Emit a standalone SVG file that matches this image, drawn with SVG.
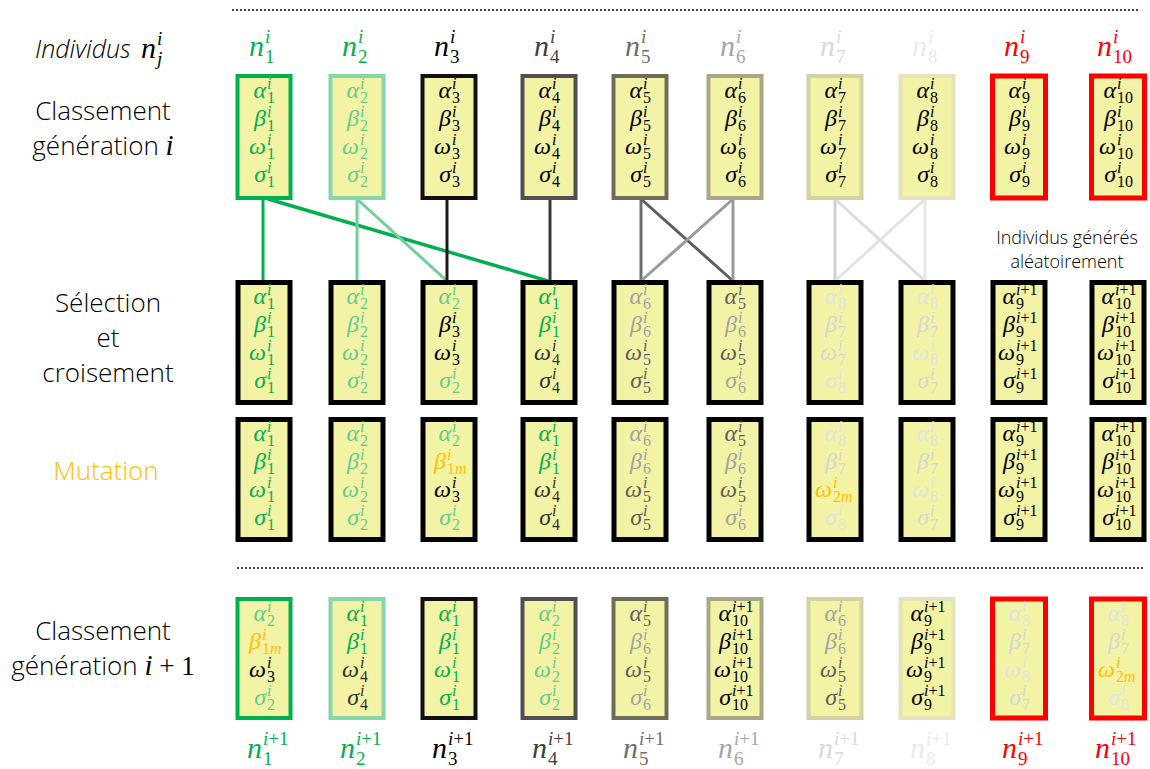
<svg xmlns="http://www.w3.org/2000/svg" width="1150" height="769" viewBox="0 0 1150 769">
<style>
.m{font-family:'Liberation Serif','DejaVu Serif',serif;font-style:italic;font-size:24px;text-anchor:end}
.p{font-family:'Liberation Serif','DejaVu Serif',serif;font-style:italic;font-size:16px}
.b{font-family:'Liberation Serif','DejaVu Serif',serif;font-style:normal;font-size:16px}
.nm{font-family:'Liberation Serif','DejaVu Serif',serif;font-style:italic;font-size:30px;text-anchor:end}
.np{font-family:'Liberation Serif','DejaVu Serif',serif;font-style:italic;font-size:19px}
.nb{font-family:'Liberation Serif','DejaVu Serif',serif;font-style:normal;font-size:19px}
.u{font-style:normal}
.it{font-style:italic}
.lab{font-family:'Open Sans','Liberation Sans',sans-serif;font-weight:300;font-size:26px;text-anchor:middle;fill:#000}
.sm{font-family:'Open Sans','Liberation Sans',sans-serif;font-weight:300;font-size:18px;text-anchor:middle;fill:#000}
.mi{font-family:'Liberation Serif','DejaVu Serif',serif;font-style:italic;font-size:29px;font-weight:normal}
.mu{font-family:'Liberation Serif','DejaVu Serif',serif;font-style:normal;font-size:27px;font-weight:normal}
.bx{fill:#F3F3A6;stroke-width:4}
.bk{fill:#F3F3A6;stroke:#000;stroke-width:5}
.r1{stroke:#00B050}.r2{stroke:#86D6A6}.r3{stroke:#111}.r4{stroke:#505050}.r5{stroke:#6E6E58}.r6{stroke:#A8A888}.r7{stroke:#D2D2A2}.r8{stroke:#E4E4BC}.r9{stroke:#FF0000;stroke-width:5}
.cG{fill:#00B050}.cL{fill:#63CB90}.cK{fill:#000}.cD{fill:#333}.c5{fill:#5E5E5E}.c6{fill:#A3A3A3}.c7{fill:#D6D6D6}.c8{fill:#E2E2E2}.cO{fill:#FFC000}.cR{fill:#FF0000}
.n4{fill:#404040}.n5{fill:#6E6E6E}.n6{fill:#A6A6A6}.n7{fill:#D9D9D9}.n8{fill:#EBEBEB}
.dot{stroke:#444;stroke-width:2;stroke-dasharray:2 2;fill:none}
</style>

<g id="separators">
<line class="dot" x1="232" y1="10" x2="1140" y2="10"/>
<line class="dot" x1="237" y1="568" x2="1145" y2="568"/>
</g>

<g id="left-labels">
<text x="35" y="58" style="font-family:'Open Sans','Liberation Sans',sans-serif;font-weight:300;font-style:italic;font-size:25px">Individus</text>
<g transform="translate(156,58)"><text class="nm">n</text><text class="np" x="1" y="-13">i</text><text class="np" x="1" y="7">j</text></g>
<text class="lab" x="103" y="120">Classement</text>
<text class="lab" x="103" y="155">génération <tspan class="mi">i</tspan></text>
<text class="lab" x="108" y="312">Sélection</text>
<text class="lab" x="108" y="347">et</text>
<text class="lab" x="108" y="382">croisement</text>
<text class="lab" x="106" y="480" style="fill:#FFC000">Mutation</text>
<text class="lab" x="103" y="640">Classement</text>
<text class="lab" x="103" y="675">génération <tspan class="mi">i</tspan><tspan class="mu"> + 1</tspan></text>
<text class="sm" x="1067" y="244">Individus générés</text>
<text class="sm" x="1067" y="268">aléatoirement</text>
</g>

<g id="connectors" fill="none" stroke-width="3">
<line x1="263" y1="199" x2="263" y2="281" stroke="#00B050"/>
<line x1="268" y1="199" x2="548" y2="281" stroke="#00B050" stroke-width="3.5"/>
<line x1="357" y1="199" x2="357" y2="281" stroke="#6FD09A"/>
<line x1="357" y1="199" x2="447" y2="281" stroke="#6FD09A"/>
<line x1="447" y1="199" x2="447" y2="281" stroke="#1A1A1A"/>
<line x1="550" y1="199" x2="550" y2="281" stroke="#3A3A3A"/>
<line x1="641" y1="199" x2="641" y2="281" stroke="#6E6E6E"/>
<line x1="641" y1="199" x2="733" y2="281" stroke="#5E5E5E"/>
<line x1="733" y1="199" x2="733" y2="281" stroke="#9A9A9A"/>
<line x1="733" y1="199" x2="641" y2="281" stroke="#9A9A9A"/>
<line x1="835" y1="199" x2="835" y2="281" stroke="#D0D0D0"/>
<line x1="835" y1="199" x2="925" y2="281" stroke="#DCDCDC"/>
<line x1="925" y1="199" x2="925" y2="281" stroke="#E6E6E6"/>
<line x1="925" y1="199" x2="835" y2="281" stroke="#E3E3E3"/>
</g>

<!-- Generation i -->
<g id="gi-1" class="cG">
<g transform="translate(264,56)"><text class="nm">n</text><text class="np" x="1" y="-13">i</text><text class="nb" x="1" y="7">1</text></g>
<rect class="bx r1" x="237.5" y="76" width="53" height="122"/>
<g transform="translate(266,98)"><text class="m">α</text><text class="p" x="1" y="-9">i</text><text class="b" x="1" y="5">1</text></g>
<g transform="translate(266,126)"><text class="m">β</text><text class="p" x="1" y="-9">i</text><text class="b" x="1" y="5">1</text></g>
<g transform="translate(266,154)"><text class="m">ω</text><text class="p" x="1" y="-9">i</text><text class="b" x="1" y="5">1</text></g>
<g transform="translate(266,182)"><text class="m">σ</text><text class="p" x="1" y="-9">i</text><text class="b" x="1" y="5">1</text></g>
</g>
<g id="gi-2" class="cL">
<g class="cG" transform="translate(357,56)"><text class="nm">n</text><text class="np" x="1" y="-13">i</text><text class="nb" x="1" y="7">2</text></g>
<rect class="bx r2" x="330.5" y="76" width="53" height="122"/>
<g transform="translate(359,98)"><text class="m">α</text><text class="p" x="1" y="-9">i</text><text class="b" x="1" y="5">2</text></g>
<g transform="translate(359,126)"><text class="m">β</text><text class="p" x="1" y="-9">i</text><text class="b" x="1" y="5">2</text></g>
<g transform="translate(359,154)"><text class="m">ω</text><text class="p" x="1" y="-9">i</text><text class="b" x="1" y="5">2</text></g>
<g transform="translate(359,182)"><text class="m">σ</text><text class="p" x="1" y="-9">i</text><text class="b" x="1" y="5">2</text></g>
</g>
<g id="gi-3" class="cK">
<g transform="translate(449,56)"><text class="nm">n</text><text class="np" x="1" y="-13">i</text><text class="nb" x="1" y="7">3</text></g>
<rect class="bx r3" x="422.5" y="76" width="53" height="122"/>
<g transform="translate(451,98)"><text class="m">α</text><text class="p" x="1" y="-9">i</text><text class="b" x="1" y="5">3</text></g>
<g transform="translate(451,126)"><text class="m">β</text><text class="p" x="1" y="-9">i</text><text class="b" x="1" y="5">3</text></g>
<g transform="translate(451,154)"><text class="m">ω</text><text class="p" x="1" y="-9">i</text><text class="b" x="1" y="5">3</text></g>
<g transform="translate(451,182)"><text class="m">σ</text><text class="p" x="1" y="-9">i</text><text class="b" x="1" y="5">3</text></g>
</g>
<g id="gi-4" class="cK">
<g class="n4" transform="translate(549,56)"><text class="nm">n</text><text class="np" x="1" y="-13">i</text><text class="nb" x="1" y="7">4</text></g>
<rect class="bx r4" x="522.5" y="76" width="53" height="122"/>
<g transform="translate(551,98)"><text class="m">α</text><text class="p" x="1" y="-9">i</text><text class="b" x="1" y="5">4</text></g>
<g transform="translate(551,126)"><text class="m">β</text><text class="p" x="1" y="-9">i</text><text class="b" x="1" y="5">4</text></g>
<g transform="translate(551,154)"><text class="m">ω</text><text class="p" x="1" y="-9">i</text><text class="b" x="1" y="5">4</text></g>
<g transform="translate(551,182)"><text class="m">σ</text><text class="p" x="1" y="-9">i</text><text class="b" x="1" y="5">4</text></g>
</g>
<g id="gi-5" class="cK">
<g class="n5" transform="translate(640,56)"><text class="nm">n</text><text class="np" x="1" y="-13">i</text><text class="nb" x="1" y="7">5</text></g>
<rect class="bx r5" x="613.5" y="76" width="53" height="122"/>
<g transform="translate(642,98)"><text class="m">α</text><text class="p" x="1" y="-9">i</text><text class="b" x="1" y="5">5</text></g>
<g transform="translate(642,126)"><text class="m">β</text><text class="p" x="1" y="-9">i</text><text class="b" x="1" y="5">5</text></g>
<g transform="translate(642,154)"><text class="m">ω</text><text class="p" x="1" y="-9">i</text><text class="b" x="1" y="5">5</text></g>
<g transform="translate(642,182)"><text class="m">σ</text><text class="p" x="1" y="-9">i</text><text class="b" x="1" y="5">5</text></g>
</g>
<g id="gi-6" class="cK">
<g class="n6" transform="translate(735,56)"><text class="nm">n</text><text class="np" x="1" y="-13">i</text><text class="nb" x="1" y="7">6</text></g>
<rect class="bx r6" x="708.5" y="76" width="53" height="122"/>
<g transform="translate(737,98)"><text class="m">α</text><text class="p" x="1" y="-9">i</text><text class="b" x="1" y="5">6</text></g>
<g transform="translate(737,126)"><text class="m">β</text><text class="p" x="1" y="-9">i</text><text class="b" x="1" y="5">6</text></g>
<g transform="translate(737,154)"><text class="m">ω</text><text class="p" x="1" y="-9">i</text><text class="b" x="1" y="5">6</text></g>
<g transform="translate(737,182)"><text class="m">σ</text><text class="p" x="1" y="-9">i</text><text class="b" x="1" y="5">6</text></g>
</g>
<g id="gi-7" class="cK">
<g class="n7" transform="translate(835,56)"><text class="nm">n</text><text class="np" x="1" y="-13">i</text><text class="nb" x="1" y="7">7</text></g>
<rect class="bx r7" x="808.5" y="76" width="53" height="122"/>
<g transform="translate(837,98)"><text class="m">α</text><text class="p" x="1" y="-9">i</text><text class="b" x="1" y="5">7</text></g>
<g transform="translate(837,126)"><text class="m">β</text><text class="p" x="1" y="-9">i</text><text class="b" x="1" y="5">7</text></g>
<g transform="translate(837,154)"><text class="m">ω</text><text class="p" x="1" y="-9">i</text><text class="b" x="1" y="5">7</text></g>
<g transform="translate(837,182)"><text class="m">σ</text><text class="p" x="1" y="-9">i</text><text class="b" x="1" y="5">7</text></g>
</g>
<g id="gi-8" class="cK">
<g class="n8" transform="translate(927,56)"><text class="nm">n</text><text class="np" x="1" y="-13">i</text><text class="nb" x="1" y="7">8</text></g>
<rect class="bx r8" x="900.5" y="76" width="53" height="122"/>
<g transform="translate(929,98)"><text class="m">α</text><text class="p" x="1" y="-9">i</text><text class="b" x="1" y="5">8</text></g>
<g transform="translate(929,126)"><text class="m">β</text><text class="p" x="1" y="-9">i</text><text class="b" x="1" y="5">8</text></g>
<g transform="translate(929,154)"><text class="m">ω</text><text class="p" x="1" y="-9">i</text><text class="b" x="1" y="5">8</text></g>
<g transform="translate(929,182)"><text class="m">σ</text><text class="p" x="1" y="-9">i</text><text class="b" x="1" y="5">8</text></g>
</g>
<g id="gi-9" class="cK">
<g class="cR" transform="translate(1019,56)"><text class="nm">n</text><text class="np" x="1" y="-13">i</text><text class="nb" x="1" y="7">9</text></g>
<rect class="bx r9" x="992.5" y="76" width="53" height="122"/>
<g transform="translate(1021,98)"><text class="m">α</text><text class="p" x="1" y="-9">i</text><text class="b" x="1" y="5">9</text></g>
<g transform="translate(1021,126)"><text class="m">β</text><text class="p" x="1" y="-9">i</text><text class="b" x="1" y="5">9</text></g>
<g transform="translate(1021,154)"><text class="m">ω</text><text class="p" x="1" y="-9">i</text><text class="b" x="1" y="5">9</text></g>
<g transform="translate(1021,182)"><text class="m">σ</text><text class="p" x="1" y="-9">i</text><text class="b" x="1" y="5">9</text></g>
</g>
<g id="gi-10" class="cK">
<g class="cR" transform="translate(1112,56)"><text class="nm">n</text><text class="np" x="1" y="-13">i</text><text class="nb" x="1" y="7">10</text></g>
<rect class="bx r9" x="1091.5" y="76" width="53" height="122"/>
<g transform="translate(1116,98)"><text class="m">α</text><text class="p" x="1" y="-9">i</text><text class="b" x="1" y="5">10</text></g>
<g transform="translate(1116,126)"><text class="m">β</text><text class="p" x="1" y="-9">i</text><text class="b" x="1" y="5">10</text></g>
<g transform="translate(1116,154)"><text class="m">ω</text><text class="p" x="1" y="-9">i</text><text class="b" x="1" y="5">10</text></g>
<g transform="translate(1116,182)"><text class="m">σ</text><text class="p" x="1" y="-9">i</text><text class="b" x="1" y="5">10</text></g>
</g>

<!-- Selection et croisement -->
<g id="sc-1" class="cG">
<rect class="bk" x="238" y="282.5" width="52" height="120"/>
<g transform="translate(266,304)"><text class="m">α</text><text class="p" x="1" y="-9">i</text><text class="b" x="1" y="5">1</text></g>
<g transform="translate(266,332)"><text class="m">β</text><text class="p" x="1" y="-9">i</text><text class="b" x="1" y="5">1</text></g>
<g transform="translate(266,360)"><text class="m">ω</text><text class="p" x="1" y="-9">i</text><text class="b" x="1" y="5">1</text></g>
<g transform="translate(266,388)"><text class="m">σ</text><text class="p" x="1" y="-9">i</text><text class="b" x="1" y="5">1</text></g>
</g>
<g id="sc-2" class="cL">
<rect class="bk" x="331" y="282.5" width="52" height="120"/>
<g transform="translate(359,304)"><text class="m">α</text><text class="p" x="1" y="-9">i</text><text class="b" x="1" y="5">2</text></g>
<g transform="translate(359,332)"><text class="m">β</text><text class="p" x="1" y="-9">i</text><text class="b" x="1" y="5">2</text></g>
<g transform="translate(359,360)"><text class="m">ω</text><text class="p" x="1" y="-9">i</text><text class="b" x="1" y="5">2</text></g>
<g transform="translate(359,388)"><text class="m">σ</text><text class="p" x="1" y="-9">i</text><text class="b" x="1" y="5">2</text></g>
</g>
<g id="sc-3">
<rect class="bk" x="423" y="282.5" width="52" height="120"/>
<g class="cL" transform="translate(451,304)"><text class="m">α</text><text class="p" x="1" y="-9">i</text><text class="b" x="1" y="5">2</text></g>
<g class="cK" transform="translate(451,332)"><text class="m">β</text><text class="p" x="1" y="-9">i</text><text class="b" x="1" y="5">3</text></g>
<g class="cK" transform="translate(451,360)"><text class="m">ω</text><text class="p" x="1" y="-9">i</text><text class="b" x="1" y="5">3</text></g>
<g class="cL" transform="translate(451,388)"><text class="m">σ</text><text class="p" x="1" y="-9">i</text><text class="b" x="1" y="5">2</text></g>
</g>
<g id="sc-4">
<rect class="bk" x="523" y="282.5" width="52" height="120"/>
<g class="cG" transform="translate(551,304)"><text class="m">α</text><text class="p" x="1" y="-9">i</text><text class="b" x="1" y="5">1</text></g>
<g class="cG" transform="translate(551,332)"><text class="m">β</text><text class="p" x="1" y="-9">i</text><text class="b" x="1" y="5">1</text></g>
<g class="cD" transform="translate(551,360)"><text class="m">ω</text><text class="p" x="1" y="-9">i</text><text class="b" x="1" y="5">4</text></g>
<g class="cD" transform="translate(551,388)"><text class="m">σ</text><text class="p" x="1" y="-9">i</text><text class="b" x="1" y="5">4</text></g>
</g>
<g id="sc-5">
<rect class="bk" x="614" y="282.5" width="52" height="120"/>
<g class="c6" transform="translate(642,304)"><text class="m">α</text><text class="p" x="1" y="-9">i</text><text class="b" x="1" y="5">6</text></g>
<g class="c6" transform="translate(642,332)"><text class="m">β</text><text class="p" x="1" y="-9">i</text><text class="b" x="1" y="5">6</text></g>
<g class="c5" transform="translate(642,360)"><text class="m">ω</text><text class="p" x="1" y="-9">i</text><text class="b" x="1" y="5">5</text></g>
<g class="c5" transform="translate(642,388)"><text class="m">σ</text><text class="p" x="1" y="-9">i</text><text class="b" x="1" y="5">5</text></g>
</g>
<g id="sc-6">
<rect class="bk" x="709" y="282.5" width="52" height="120"/>
<g class="c5" transform="translate(737,304)"><text class="m">α</text><text class="p" x="1" y="-9">i</text><text class="b" x="1" y="5">5</text></g>
<g class="c6" transform="translate(737,332)"><text class="m">β</text><text class="p" x="1" y="-9">i</text><text class="b" x="1" y="5">6</text></g>
<g class="c5" transform="translate(737,360)"><text class="m">ω</text><text class="p" x="1" y="-9">i</text><text class="b" x="1" y="5">5</text></g>
<g class="c6" transform="translate(737,388)"><text class="m">σ</text><text class="p" x="1" y="-9">i</text><text class="b" x="1" y="5">6</text></g>
</g>
<g id="sc-7">
<rect class="bk" x="809" y="282.5" width="52" height="120"/>
<g class="c8" transform="translate(837,304)"><text class="m">α</text><text class="p" x="1" y="-9">i</text><text class="b" x="1" y="5">8</text></g>
<g class="c7" transform="translate(837,332)"><text class="m">β</text><text class="p" x="1" y="-9">i</text><text class="b" x="1" y="5">7</text></g>
<g class="c7" transform="translate(837,360)"><text class="m">ω</text><text class="p" x="1" y="-9">i</text><text class="b" x="1" y="5">7</text></g>
<g class="c8" transform="translate(837,388)"><text class="m">σ</text><text class="p" x="1" y="-9">i</text><text class="b" x="1" y="5">8</text></g>
</g>
<g id="sc-8">
<rect class="bk" x="901" y="282.5" width="52" height="120"/>
<g class="c8" transform="translate(929,304)"><text class="m">α</text><text class="p" x="1" y="-9">i</text><text class="b" x="1" y="5">8</text></g>
<g class="c7" transform="translate(929,332)"><text class="m">β</text><text class="p" x="1" y="-9">i</text><text class="b" x="1" y="5">7</text></g>
<g class="c8" transform="translate(929,360)"><text class="m">ω</text><text class="p" x="1" y="-9">i</text><text class="b" x="1" y="5">8</text></g>
<g class="c7" transform="translate(929,388)"><text class="m">σ</text><text class="p" x="1" y="-9">i</text><text class="b" x="1" y="5">7</text></g>
</g>
<g id="sc-9" class="cK">
<rect class="bk" x="993" y="282.5" width="52" height="120"/>
<g transform="translate(1015,304)"><text class="m">α</text><text class="p" x="1" y="-9">i<tspan class="u">+1</tspan></text><text class="b" x="1" y="5">9</text></g>
<g transform="translate(1015,332)"><text class="m">β</text><text class="p" x="1" y="-9">i<tspan class="u">+1</tspan></text><text class="b" x="1" y="5">9</text></g>
<g transform="translate(1015,360)"><text class="m">ω</text><text class="p" x="1" y="-9">i<tspan class="u">+1</tspan></text><text class="b" x="1" y="5">9</text></g>
<g transform="translate(1015,388)"><text class="m">σ</text><text class="p" x="1" y="-9">i<tspan class="u">+1</tspan></text><text class="b" x="1" y="5">9</text></g>
</g>
<g id="sc-10" class="cK">
<rect class="bk" x="1092" y="282.5" width="52" height="120"/>
<g transform="translate(1114,304)"><text class="m">α</text><text class="p" x="1" y="-9">i<tspan class="u">+1</tspan></text><text class="b" x="1" y="5">10</text></g>
<g transform="translate(1114,332)"><text class="m">β</text><text class="p" x="1" y="-9">i<tspan class="u">+1</tspan></text><text class="b" x="1" y="5">10</text></g>
<g transform="translate(1114,360)"><text class="m">ω</text><text class="p" x="1" y="-9">i<tspan class="u">+1</tspan></text><text class="b" x="1" y="5">10</text></g>
<g transform="translate(1114,388)"><text class="m">σ</text><text class="p" x="1" y="-9">i<tspan class="u">+1</tspan></text><text class="b" x="1" y="5">10</text></g>
</g>

<!-- Mutation -->
<g id="mu-1" class="cG">
<rect class="bk" x="238" y="419.5" width="52" height="120"/>
<g transform="translate(266,441)"><text class="m">α</text><text class="p" x="1" y="-9">i</text><text class="b" x="1" y="5">1</text></g>
<g transform="translate(266,469)"><text class="m">β</text><text class="p" x="1" y="-9">i</text><text class="b" x="1" y="5">1</text></g>
<g transform="translate(266,497)"><text class="m">ω</text><text class="p" x="1" y="-9">i</text><text class="b" x="1" y="5">1</text></g>
<g transform="translate(266,525)"><text class="m">σ</text><text class="p" x="1" y="-9">i</text><text class="b" x="1" y="5">1</text></g>
</g>
<g id="mu-2" class="cL">
<rect class="bk" x="331" y="419.5" width="52" height="120"/>
<g transform="translate(359,441)"><text class="m">α</text><text class="p" x="1" y="-9">i</text><text class="b" x="1" y="5">2</text></g>
<g transform="translate(359,469)"><text class="m">β</text><text class="p" x="1" y="-9">i</text><text class="b" x="1" y="5">2</text></g>
<g transform="translate(359,497)"><text class="m">ω</text><text class="p" x="1" y="-9">i</text><text class="b" x="1" y="5">2</text></g>
<g transform="translate(359,525)"><text class="m">σ</text><text class="p" x="1" y="-9">i</text><text class="b" x="1" y="5">2</text></g>
</g>
<g id="mu-3">
<rect class="bk" x="423" y="419.5" width="52" height="120"/>
<g class="cL" transform="translate(451,441)"><text class="m">α</text><text class="p" x="1" y="-9">i</text><text class="b" x="1" y="5">2</text></g>
<g class="cO" transform="translate(446,469)"><text class="m">β</text><text class="p" x="1" y="-9">i</text><text class="b" x="1" y="5">1<tspan class="it">m</tspan></text></g>
<g class="cK" transform="translate(451,497)"><text class="m">ω</text><text class="p" x="1" y="-9">i</text><text class="b" x="1" y="5">3</text></g>
<g class="cL" transform="translate(451,525)"><text class="m">σ</text><text class="p" x="1" y="-9">i</text><text class="b" x="1" y="5">2</text></g>
</g>
<g id="mu-4">
<rect class="bk" x="523" y="419.5" width="52" height="120"/>
<g class="cG" transform="translate(551,441)"><text class="m">α</text><text class="p" x="1" y="-9">i</text><text class="b" x="1" y="5">1</text></g>
<g class="cG" transform="translate(551,469)"><text class="m">β</text><text class="p" x="1" y="-9">i</text><text class="b" x="1" y="5">1</text></g>
<g class="cD" transform="translate(551,497)"><text class="m">ω</text><text class="p" x="1" y="-9">i</text><text class="b" x="1" y="5">4</text></g>
<g class="cD" transform="translate(551,525)"><text class="m">σ</text><text class="p" x="1" y="-9">i</text><text class="b" x="1" y="5">4</text></g>
</g>
<g id="mu-5">
<rect class="bk" x="614" y="419.5" width="52" height="120"/>
<g class="c6" transform="translate(642,441)"><text class="m">α</text><text class="p" x="1" y="-9">i</text><text class="b" x="1" y="5">6</text></g>
<g class="c6" transform="translate(642,469)"><text class="m">β</text><text class="p" x="1" y="-9">i</text><text class="b" x="1" y="5">6</text></g>
<g class="c5" transform="translate(642,497)"><text class="m">ω</text><text class="p" x="1" y="-9">i</text><text class="b" x="1" y="5">5</text></g>
<g class="c5" transform="translate(642,525)"><text class="m">σ</text><text class="p" x="1" y="-9">i</text><text class="b" x="1" y="5">5</text></g>
</g>
<g id="mu-6">
<rect class="bk" x="709" y="419.5" width="52" height="120"/>
<g class="c5" transform="translate(737,441)"><text class="m">α</text><text class="p" x="1" y="-9">i</text><text class="b" x="1" y="5">5</text></g>
<g class="c6" transform="translate(737,469)"><text class="m">β</text><text class="p" x="1" y="-9">i</text><text class="b" x="1" y="5">6</text></g>
<g class="c5" transform="translate(737,497)"><text class="m">ω</text><text class="p" x="1" y="-9">i</text><text class="b" x="1" y="5">5</text></g>
<g class="c6" transform="translate(737,525)"><text class="m">σ</text><text class="p" x="1" y="-9">i</text><text class="b" x="1" y="5">6</text></g>
</g>
<g id="mu-7">
<rect class="bk" x="809" y="419.5" width="52" height="120"/>
<g class="c8" transform="translate(837,441)"><text class="m">α</text><text class="p" x="1" y="-9">i</text><text class="b" x="1" y="5">8</text></g>
<g class="c7" transform="translate(837,469)"><text class="m">β</text><text class="p" x="1" y="-9">i</text><text class="b" x="1" y="5">7</text></g>
<g class="cO" transform="translate(832,497)"><text class="m">ω</text><text class="p" x="1" y="-9">i</text><text class="b" x="1" y="5">2<tspan class="it">m</tspan></text></g>
<g class="c8" transform="translate(837,525)"><text class="m">σ</text><text class="p" x="1" y="-9">i</text><text class="b" x="1" y="5">8</text></g>
</g>
<g id="mu-8">
<rect class="bk" x="901" y="419.5" width="52" height="120"/>
<g class="c8" transform="translate(929,441)"><text class="m">α</text><text class="p" x="1" y="-9">i</text><text class="b" x="1" y="5">8</text></g>
<g class="c7" transform="translate(929,469)"><text class="m">β</text><text class="p" x="1" y="-9">i</text><text class="b" x="1" y="5">7</text></g>
<g class="c8" transform="translate(929,497)"><text class="m">ω</text><text class="p" x="1" y="-9">i</text><text class="b" x="1" y="5">8</text></g>
<g class="c7" transform="translate(929,525)"><text class="m">σ</text><text class="p" x="1" y="-9">i</text><text class="b" x="1" y="5">7</text></g>
</g>
<g id="mu-9" class="cK">
<rect class="bk" x="993" y="419.5" width="52" height="120"/>
<g transform="translate(1015,441)"><text class="m">α</text><text class="p" x="1" y="-9">i<tspan class="u">+1</tspan></text><text class="b" x="1" y="5">9</text></g>
<g transform="translate(1015,469)"><text class="m">β</text><text class="p" x="1" y="-9">i<tspan class="u">+1</tspan></text><text class="b" x="1" y="5">9</text></g>
<g transform="translate(1015,497)"><text class="m">ω</text><text class="p" x="1" y="-9">i<tspan class="u">+1</tspan></text><text class="b" x="1" y="5">9</text></g>
<g transform="translate(1015,525)"><text class="m">σ</text><text class="p" x="1" y="-9">i<tspan class="u">+1</tspan></text><text class="b" x="1" y="5">9</text></g>
</g>
<g id="mu-10" class="cK">
<rect class="bk" x="1092" y="419.5" width="52" height="120"/>
<g transform="translate(1114,441)"><text class="m">α</text><text class="p" x="1" y="-9">i<tspan class="u">+1</tspan></text><text class="b" x="1" y="5">10</text></g>
<g transform="translate(1114,469)"><text class="m">β</text><text class="p" x="1" y="-9">i<tspan class="u">+1</tspan></text><text class="b" x="1" y="5">10</text></g>
<g transform="translate(1114,497)"><text class="m">ω</text><text class="p" x="1" y="-9">i<tspan class="u">+1</tspan></text><text class="b" x="1" y="5">10</text></g>
<g transform="translate(1114,525)"><text class="m">σ</text><text class="p" x="1" y="-9">i<tspan class="u">+1</tspan></text><text class="b" x="1" y="5">10</text></g>
</g>

<!-- Generation i+1 -->
<g id="gn-1">
<rect class="bx r1" x="237.5" y="599" width="53" height="119"/>
<g class="cL" transform="translate(266,621)"><text class="m">α</text><text class="p" x="1" y="-9">i</text><text class="b" x="1" y="5">2</text></g>
<g class="cO" transform="translate(261,649)"><text class="m">β</text><text class="p" x="1" y="-9">i</text><text class="b" x="1" y="5">1<tspan class="it">m</tspan></text></g>
<g class="cK" transform="translate(266,677)"><text class="m">ω</text><text class="p" x="1" y="-9">i</text><text class="b" x="1" y="5">3</text></g>
<g class="cL" transform="translate(266,705)"><text class="m">σ</text><text class="p" x="1" y="-9">i</text><text class="b" x="1" y="5">2</text></g>
<g class="cG" transform="translate(262,758)"><text class="nm">n</text><text class="np" x="1" y="-13">i<tspan class="u">+1</tspan></text><text class="nb" x="1" y="7">1</text></g>
</g>
<g id="gn-2">
<rect class="bx r2" x="330.5" y="599" width="53" height="119"/>
<g class="cG" transform="translate(359,621)"><text class="m">α</text><text class="p" x="1" y="-9">i</text><text class="b" x="1" y="5">1</text></g>
<g class="cG" transform="translate(359,649)"><text class="m">β</text><text class="p" x="1" y="-9">i</text><text class="b" x="1" y="5">1</text></g>
<g class="cD" transform="translate(359,677)"><text class="m">ω</text><text class="p" x="1" y="-9">i</text><text class="b" x="1" y="5">4</text></g>
<g class="cD" transform="translate(359,705)"><text class="m">σ</text><text class="p" x="1" y="-9">i</text><text class="b" x="1" y="5">4</text></g>
<g class="cG" transform="translate(355,758)"><text class="nm">n</text><text class="np" x="1" y="-13">i<tspan class="u">+1</tspan></text><text class="nb" x="1" y="7">2</text></g>
</g>
<g id="gn-3">
<rect class="bx r3" x="422.5" y="599" width="53" height="119"/>
<g class="cG" transform="translate(451,621)"><text class="m">α</text><text class="p" x="1" y="-9">i</text><text class="b" x="1" y="5">1</text></g>
<g class="cG" transform="translate(451,649)"><text class="m">β</text><text class="p" x="1" y="-9">i</text><text class="b" x="1" y="5">1</text></g>
<g class="cG" transform="translate(451,677)"><text class="m">ω</text><text class="p" x="1" y="-9">i</text><text class="b" x="1" y="5">1</text></g>
<g class="cG" transform="translate(451,705)"><text class="m">σ</text><text class="p" x="1" y="-9">i</text><text class="b" x="1" y="5">1</text></g>
<g class="cK" transform="translate(447,758)"><text class="nm">n</text><text class="np" x="1" y="-13">i<tspan class="u">+1</tspan></text><text class="nb" x="1" y="7">3</text></g>
</g>
<g id="gn-4">
<rect class="bx r4" x="522.5" y="599" width="53" height="119"/>
<g class="cL" transform="translate(551,621)"><text class="m">α</text><text class="p" x="1" y="-9">i</text><text class="b" x="1" y="5">2</text></g>
<g class="cL" transform="translate(551,649)"><text class="m">β</text><text class="p" x="1" y="-9">i</text><text class="b" x="1" y="5">2</text></g>
<g class="cL" transform="translate(551,677)"><text class="m">ω</text><text class="p" x="1" y="-9">i</text><text class="b" x="1" y="5">2</text></g>
<g class="cL" transform="translate(551,705)"><text class="m">σ</text><text class="p" x="1" y="-9">i</text><text class="b" x="1" y="5">2</text></g>
<g class="n4" transform="translate(547,758)"><text class="nm">n</text><text class="np" x="1" y="-13">i<tspan class="u">+1</tspan></text><text class="nb" x="1" y="7">4</text></g>
</g>
<g id="gn-5">
<rect class="bx r5" x="613.5" y="599" width="53" height="119"/>
<g class="c5" transform="translate(642,621)"><text class="m">α</text><text class="p" x="1" y="-9">i</text><text class="b" x="1" y="5">5</text></g>
<g class="c6" transform="translate(642,649)"><text class="m">β</text><text class="p" x="1" y="-9">i</text><text class="b" x="1" y="5">6</text></g>
<g class="c5" transform="translate(642,677)"><text class="m">ω</text><text class="p" x="1" y="-9">i</text><text class="b" x="1" y="5">5</text></g>
<g class="c6" transform="translate(642,705)"><text class="m">σ</text><text class="p" x="1" y="-9">i</text><text class="b" x="1" y="5">6</text></g>
<g class="n5" transform="translate(638,758)"><text class="nm">n</text><text class="np" x="1" y="-13">i<tspan class="u">+1</tspan></text><text class="nb" x="1" y="7">5</text></g>
</g>
<g id="gn-6" class="cK">
<rect class="bx r6" x="708.5" y="599" width="53" height="119"/>
<g transform="translate(731,621)"><text class="m">α</text><text class="p" x="1" y="-9">i<tspan class="u">+1</tspan></text><text class="b" x="1" y="5">10</text></g>
<g transform="translate(731,649)"><text class="m">β</text><text class="p" x="1" y="-9">i<tspan class="u">+1</tspan></text><text class="b" x="1" y="5">10</text></g>
<g transform="translate(731,677)"><text class="m">ω</text><text class="p" x="1" y="-9">i<tspan class="u">+1</tspan></text><text class="b" x="1" y="5">10</text></g>
<g transform="translate(731,705)"><text class="m">σ</text><text class="p" x="1" y="-9">i<tspan class="u">+1</tspan></text><text class="b" x="1" y="5">10</text></g>
<g class="n6" transform="translate(733,758)"><text class="nm">n</text><text class="np" x="1" y="-13">i<tspan class="u">+1</tspan></text><text class="nb" x="1" y="7">6</text></g>
</g>
<g id="gn-7">
<rect class="bx r7" x="808.5" y="599" width="53" height="119"/>
<g class="c6" transform="translate(837,621)"><text class="m">α</text><text class="p" x="1" y="-9">i</text><text class="b" x="1" y="5">6</text></g>
<g class="c6" transform="translate(837,649)"><text class="m">β</text><text class="p" x="1" y="-9">i</text><text class="b" x="1" y="5">6</text></g>
<g class="c5" transform="translate(837,677)"><text class="m">ω</text><text class="p" x="1" y="-9">i</text><text class="b" x="1" y="5">5</text></g>
<g class="c5" transform="translate(837,705)"><text class="m">σ</text><text class="p" x="1" y="-9">i</text><text class="b" x="1" y="5">5</text></g>
<g class="n7" transform="translate(833,758)"><text class="nm">n</text><text class="np" x="1" y="-13">i<tspan class="u">+1</tspan></text><text class="nb" x="1" y="7">7</text></g>
</g>
<g id="gn-8" class="cK">
<rect class="bx r8" x="900.5" y="599" width="53" height="119"/>
<g transform="translate(923,621)"><text class="m">α</text><text class="p" x="1" y="-9">i<tspan class="u">+1</tspan></text><text class="b" x="1" y="5">9</text></g>
<g transform="translate(923,649)"><text class="m">β</text><text class="p" x="1" y="-9">i<tspan class="u">+1</tspan></text><text class="b" x="1" y="5">9</text></g>
<g transform="translate(923,677)"><text class="m">ω</text><text class="p" x="1" y="-9">i<tspan class="u">+1</tspan></text><text class="b" x="1" y="5">9</text></g>
<g transform="translate(923,705)"><text class="m">σ</text><text class="p" x="1" y="-9">i<tspan class="u">+1</tspan></text><text class="b" x="1" y="5">9</text></g>
<g class="n8" transform="translate(925,758)"><text class="nm">n</text><text class="np" x="1" y="-13">i<tspan class="u">+1</tspan></text><text class="nb" x="1" y="7">8</text></g>
</g>
<g id="gn-9">
<rect class="bx r9" x="992.5" y="599" width="53" height="119"/>
<g class="c8" transform="translate(1021,621)"><text class="m">α</text><text class="p" x="1" y="-9">i</text><text class="b" x="1" y="5">8</text></g>
<g class="c7" transform="translate(1021,649)"><text class="m">β</text><text class="p" x="1" y="-9">i</text><text class="b" x="1" y="5">7</text></g>
<g class="c8" transform="translate(1021,677)"><text class="m">ω</text><text class="p" x="1" y="-9">i</text><text class="b" x="1" y="5">8</text></g>
<g class="c7" transform="translate(1021,705)"><text class="m">σ</text><text class="p" x="1" y="-9">i</text><text class="b" x="1" y="5">7</text></g>
<g class="cR" transform="translate(1017,758)"><text class="nm">n</text><text class="np" x="1" y="-13">i<tspan class="u">+1</tspan></text><text class="nb" x="1" y="7">9</text></g>
</g>
<g id="gn-10">
<rect class="bx r9" x="1091.5" y="599" width="53" height="119"/>
<g class="c8" transform="translate(1120,621)"><text class="m">α</text><text class="p" x="1" y="-9">i</text><text class="b" x="1" y="5">8</text></g>
<g class="c7" transform="translate(1120,649)"><text class="m">β</text><text class="p" x="1" y="-9">i</text><text class="b" x="1" y="5">7</text></g>
<g class="cO" transform="translate(1115,677)"><text class="m">ω</text><text class="p" x="1" y="-9">i</text><text class="b" x="1" y="5">2<tspan class="it">m</tspan></text></g>
<g class="c8" transform="translate(1120,705)"><text class="m">σ</text><text class="p" x="1" y="-9">i</text><text class="b" x="1" y="5">8</text></g>
<g class="cR" transform="translate(1110,758)"><text class="nm">n</text><text class="np" x="1" y="-13">i<tspan class="u">+1</tspan></text><text class="nb" x="1" y="7">10</text></g>
</g>
</svg>
